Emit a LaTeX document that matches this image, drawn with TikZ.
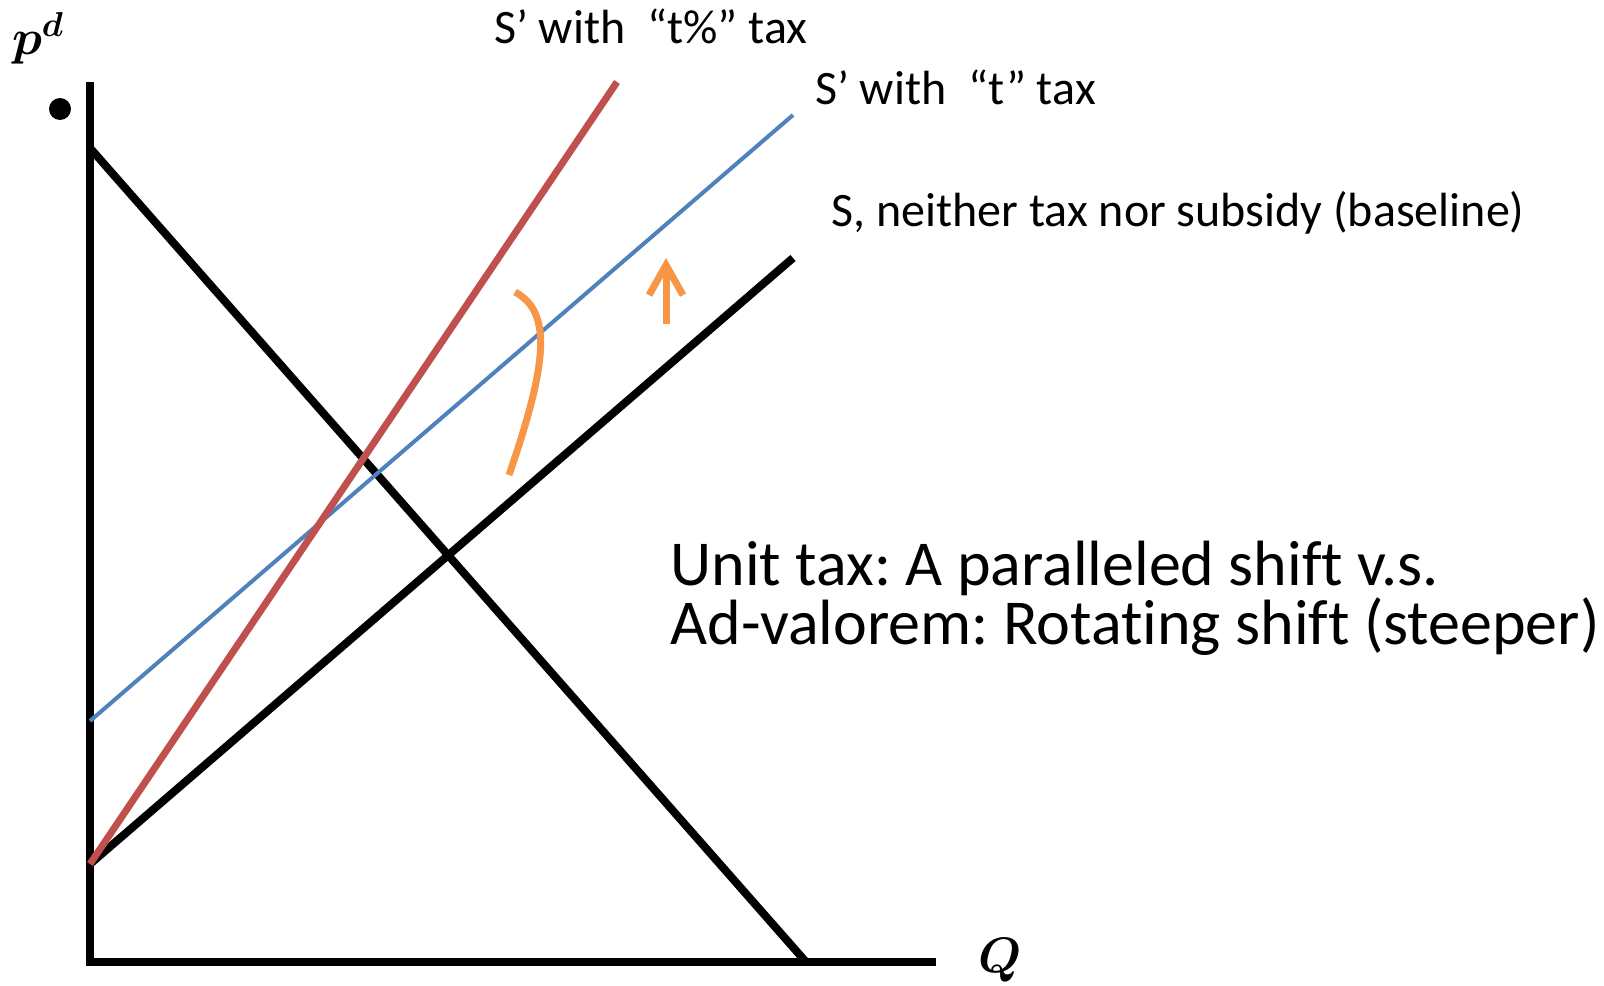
\documentclass[tikz,border=0pt]{standalone}
\usepackage{fontspec}
\setmainfont{Carlito}[Ligatures={NoCommon}]
\usepackage{bm}
\usetikzlibrary{arrows.meta}
\definecolor{taxred}{RGB}{192,80,77}
\definecolor{taxblue}{RGB}{79,129,189}
\definecolor{shiftorange}{RGB}{247,150,70}
\tikzset{
  axis/.style={line width=4.2pt},
  curve/.style={line width=4pt},
  lbl/.style={anchor=base west, inner sep=0pt, font=\fontsize{24}{28}\selectfont},
  note/.style={anchor=north west, inner sep=0pt, align=left, font=\fontsize{32}{25.5}\selectfont}
}
\frenchspacing
\begin{document}
\begin{tikzpicture}[x = 0.5pt, y = -0.5pt]

    \useasboundingbox (0,0) rectangle (1604,985);

    % Punti degli assi
    \coordinate (O) at (90,962);
    \coordinate (ytop) at (90,82);
    \coordinate (xend) at (936,962);

    % Assi
    \draw[axis] (ytop) -- (O) -- (xend);
    \node[font=\fontsize{27}{30}\selectfont, inner sep=0pt] (pd) at (38,38) {$\bm{p^d}$};
    \node[font=\fontsize{25}{30}\selectfont, inner sep=0pt] (q) at (1000,960) {$\bm{Q}$};
    \fill (60,109) circle (11);

    % Domanda
    \coordinate (d1) at (90,148);
    \coordinate (d2) at (806,962);
    \draw[curve] (d1) -- (d2);

    % Offerta di base
    \coordinate (s0) at (90,864);
    \coordinate (s1) at (793,258);
    \draw[curve] (s0) -- (s1);

    % Offerta con imposta unitaria
    \coordinate (t0) at (90,721);
    \coordinate (t1) at (793,115);
    \draw[taxblue, line width=2pt] (t0) -- (t1);

    % Offerta con imposta ad valorem
    \coordinate (p1) at (617,82);
    \draw[taxred, line width=3.5pt] (s0) -- (p1);

    % Frecce arancioni
    \draw[shiftorange, line width=3.5pt] (515,292) .. controls (552,312) and (548,362) .. (509,475);
    \draw[shiftorange, line width=3.5pt, -{Straight Barb[length=15pt, width=17pt]}] (666,324) -- (666,258);

    % Etichette
    \node[lbl] (lblpct) at (494,43) {S’ with \ “t\%” tax};
    \node[lbl] (lblunit) at (815,104) {S’ with \ “t” tax};
    \node[lbl] (lblbase) at (831,226) {S, neither tax nor subsidy (baseline)};
    \node[note] (note) at (670,541) {Unit tax: A paralleled shift v.s.\\ Ad-valorem: Rotating shift (steeper)};

\end{tikzpicture}
\end{document}
